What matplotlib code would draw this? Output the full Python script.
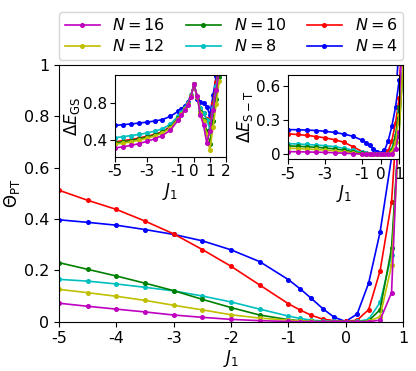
import matplotlib
matplotlib.use("Agg")
import matplotlib.pyplot as plt

# ---- data ----
J1 = [-5, -4.5, -4, -3.5, -3, -2.5, -2, -1.5, -1, -0.8, -0.6, -0.4, -0.2, 0, 0.2, 0.4, 0.6, 0.8, 1.0]
J1_gs = J1 + [1.2, 1.4, 1.6]

labels = ["$N=16$", "$N=12$", "$N=10$", "$N=8$", "$N=6$", "$N=4$"]
colors = ["m", "y", "g", "c", "r", "b"]

theta_N16 = [0.072, 0.060, 0.049, 0.038, 0.026, 0.017, 0.009, 0.004, 0.001, 0, 0, 0, 0, 0, 0, 0, 0.006, 0.113, 1.2]
theta_N12 = [0.126, 0.113, 0.099, 0.083, 0.064, 0.046, 0.027, 0.014, 0.006, 0.003, 0.001, 0, 0, 0, 0, 0.001, 0.02, 0.22, 1.0]
theta_N10 = [0.230, 0.204, 0.178, 0.150, 0.121, 0.087, 0.055, 0.026, 0.008, 0.004, 0.001, 0.0005, 0, 0, 0, 0.003, 0.047, 0.286, 1.0]
theta_N8 = [0.165, 0.158, 0.147, 0.134, 0.120, 0.100, 0.077, 0.049, 0.022, 0.013, 0.006, 0.003, 0.001, 0, 0.001, 0.009, 0.075, 0.26, 1.0]
theta_N6 = [0.512, 0.473, 0.4375, 0.392, 0.342, 0.281, 0.216, 0.143, 0.070, 0.046, 0.025, 0.010, 0.004, 0.001, 0.006, 0.047, 0.198, 0.466, 1.15]
theta_N4 = [0.397, 0.387, 0.376, 0.359, 0.340, 0.315, 0.280, 0.234, 0.164, 0.129, 0.091, 0.051, 0.017, 0.001, 0.03, 0.15, 0.349, 0.64, 1.3]

gs_N16 = [0.314, 0.327, 0.342, 0.36, 0.385, 0.412, 0.448, 0.505, 0.615, 0.665, 0.72, 0.78, 0.865, 1.0, 0.87, 0.67, 0.56, 0.37, 0.5, 0.72, 0.94, 1.16]
gs_N12 = [0.354, 0.366, 0.38, 0.397, 0.418, 0.442, 0.474, 0.527, 0.63, 0.675, 0.73, 0.785, 0.87, 1.0, 0.86, 0.69, 0.60, 0.46, 0.29, 0.54, 0.79, 1.04]
gs_N10 = [0.368, 0.38, 0.393, 0.41, 0.43, 0.452, 0.483, 0.535, 0.635, 0.68, 0.735, 0.79, 0.87, 1.0, 0.86, 0.70, 0.62, 0.50, 0.36, 0.6, 0.84, 1.08]
gs_N8 = [0.425, 0.435, 0.447, 0.46, 0.475, 0.495, 0.52, 0.57, 0.66, 0.70, 0.75, 0.80, 0.88, 1.0, 0.86, 0.74, 0.69, 0.62, 0.52, 0.75, 0.98, 1.21]
gs_N6 = [0.38, 0.392, 0.405, 0.42, 0.44, 0.46, 0.49, 0.545, 0.645, 0.69, 0.74, 0.79, 0.87, 1.0, 0.86, 0.74, 0.69, 0.63, 0.57, 0.80, 1.03, 1.26]
gs_N4 = [0.557, 0.565, 0.573, 0.582, 0.592, 0.604, 0.62, 0.655, 0.71, 0.735, 0.765, 0.81, 0.88, 1.0, 0.84, 0.81, 0.80, 0.76, 0.67, 0.88, 1.09, 1.3]

st_N16 = [0.025, 0.024, 0.022, 0.02, 0.018, 0.015, 0.011, 0.007, 0.003, 0.002, 0.001, 0, 0, 0, 0, 0.001, 0.005, 0.05, 0.2]
st_N12 = [0.055, 0.052, 0.048, 0.044, 0.039, 0.032, 0.024, 0.014, 0.006, 0.003, 0.001, 0, 0, 0, 0, 0.003, 0.025, 0.11, 0.35]
st_N10 = [0.075, 0.072, 0.068, 0.063, 0.057, 0.049, 0.038, 0.024, 0.011, 0.006, 0.003, 0.001, 0, 0, 0.001, 0.005, 0.04, 0.15, 0.42]
st_N8 = [0.095, 0.092, 0.088, 0.083, 0.077, 0.069, 0.055, 0.038, 0.018, 0.01, 0.005, 0.002, 0.001, 0, 0.001, 0.008, 0.05, 0.17, 0.38]
st_N6 = [0.181, 0.176, 0.168, 0.158, 0.146, 0.13, 0.108, 0.068, 0.025, 0.013, 0.006, 0.002, 0.001, 0, 0.004, 0.03, 0.12, 0.28, 0.5]
st_N4 = [0.219, 0.218, 0.215, 0.211, 0.204, 0.194, 0.18, 0.16, 0.125, 0.105, 0.08, 0.052, 0.025, 0.01, 0.035, 0.12, 0.25, 0.42, 0.66]

theta = [theta_N16, theta_N12, theta_N10, theta_N8, theta_N6, theta_N4]
gs = [gs_N16, gs_N12, gs_N10, gs_N8, gs_N6, gs_N4]
st = [st_N16, st_N12, st_N10, st_N8, st_N6, st_N4]

main_xticks = [-5, -4, -3, -2, -1, 0, 1]
main_yticks = [0, 0.2, 0.4, 0.6, 0.8, 1]
main_yticklabels = ["0", "0.2", "0.4", "0.6", "0.8", "1"]
in1_xticks = [-5, -3, -1, 0, 1, 2]
in1_yticks = [0.4, 0.8]
in2_xticks = [-5, -3, -1, 0, 1]
in2_yticks = [0, 0.3, 0.6]
in2_yticklabels = ["0", "0.3", "0.6"]

fig = plt.figure(figsize=(4.16, 3.71), dpi=100)
ax = fig.add_axes([0.1418, 0.1329, 0.827, 0.6919])

lw, ms = 1.2, 2.6
order = [5, 4, 3, 2, 1, 0]
handles = [None] * 6
for i in order:
    h, = ax.plot(J1, theta[i], color=colors[i], marker="o", ms=ms, lw=lw, label=labels[i])
    handles[i] = h
ax.set_xlim(-5, 1)
ax.set_ylim(0, 1)
ax.set_xticks(main_xticks)
ax.set_xticklabels([str(t) for t in main_xticks])
ax.set_yticks(main_yticks)
ax.set_yticklabels(main_yticklabels)
ax.tick_params(labelsize=11.5)
ax.set_xlabel("$J_1$", fontsize=12, labelpad=1)
ax.set_ylabel(r"$\Theta_{\rm PT}$", fontsize=12, labelpad=1)

ax.legend(handles, labels, ncol=3, loc="lower left", bbox_to_anchor=(0, 1.02, 1, 0.2),
          mode="expand", fontsize=11.5, borderaxespad=0, handlelength=2.2,
          columnspacing=1.0, handletextpad=0.8, borderpad=0.35, labelspacing=0.3)

# inset 1
ax1 = fig.add_axes([0.2764, 0.5776, 0.2661, 0.2202])
for i in order:
    ax1.plot(J1_gs, gs[i], color=colors[i], marker="o", ms=ms, lw=lw)
ax1.set_xlim(-5, 2)
ax1.set_ylim(0.22, 1.1)
ax1.set_xticks(in1_xticks)
ax1.set_xticklabels([str(t) for t in in1_xticks])
ax1.set_yticks(in1_yticks)
ax1.set_yticklabels(["0.4", "0.8"])
ax1.tick_params(labelsize=11, pad=2)
ax1.set_xlabel("$J_1$", fontsize=12, labelpad=1)
ax1.set_ylabel(r"$\Delta E_{\rm GS}$", fontsize=12, labelpad=1)

# inset 2
ax2 = fig.add_axes([0.693, 0.5714, 0.2668, 0.2264])
for i in order:
    ax2.plot(J1, st[i], color=colors[i], marker="o", ms=ms, lw=lw)
ax2.set_xlim(-5, 1)
ax2.set_ylim(-0.04, 0.7)
ax2.set_xticks(in2_xticks)
ax2.set_xticklabels([str(t) for t in in2_xticks])
ax2.set_yticks(in2_yticks)
ax2.set_yticklabels(in2_yticklabels)
ax2.tick_params(labelsize=11, pad=2)
ax2.set_xlabel("$J_1$", fontsize=12, labelpad=1)
ax2.set_ylabel(r"$\Delta E_{\rm S-T}$", fontsize=12, labelpad=1)

fig.savefig("out.png", dpi=100)
